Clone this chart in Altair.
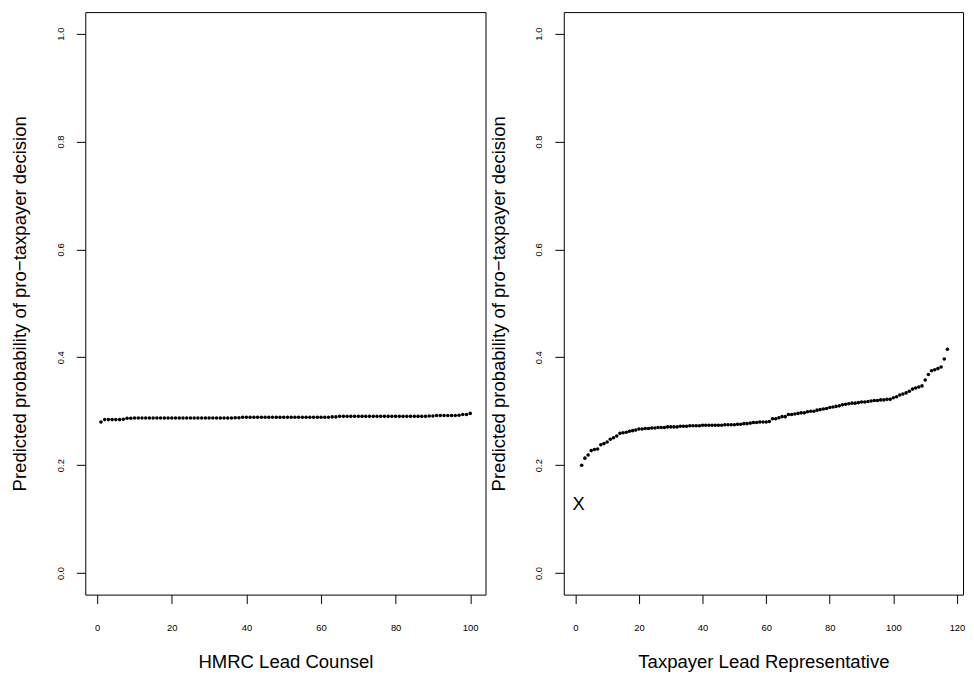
import altair as alt
import pandas as pd

# ---- data ----
left_x = list(range(1, 101))
left_y = [
    0.2800, 0.2845, 0.2845, 0.2845, 0.2845, 0.2845, 0.2850, 0.2870, 0.2870, 0.2875,
    0.2875, 0.2875, 0.2875, 0.2875, 0.2875, 0.2875, 0.2875, 0.2875, 0.2875, 0.2875,
    0.2875, 0.2875, 0.2875, 0.2875, 0.2875, 0.2875, 0.2875, 0.2875, 0.2875, 0.2875,
    0.2875, 0.2875, 0.2875, 0.2875, 0.2875, 0.2875, 0.2880, 0.2880, 0.2890, 0.2890,
    0.2890, 0.2890, 0.2890, 0.2890, 0.2890, 0.2890, 0.2890, 0.2890, 0.2890, 0.2890,
    0.2890, 0.2890, 0.2890, 0.2890, 0.2890, 0.2890, 0.2890, 0.2890, 0.2890, 0.2890,
    0.2890, 0.2890, 0.2895, 0.2895, 0.2905, 0.2905, 0.2905, 0.2905, 0.2905, 0.2905,
    0.2905, 0.2905, 0.2905, 0.2905, 0.2905, 0.2905, 0.2905, 0.2905, 0.2905, 0.2905,
    0.2905, 0.2905, 0.2905, 0.2905, 0.2905, 0.2905, 0.2905, 0.2905, 0.2910, 0.2910,
    0.2920, 0.2920, 0.2920, 0.2920, 0.2920, 0.2920, 0.2925, 0.2940, 0.2940, 0.2960,
]

right_x = list(range(2, 118))
right_y = [
    0.200, 0.213, 0.219, 0.227, 0.229, 0.230, 0.238, 0.240, 0.243, 0.248,
    0.251, 0.254, 0.259, 0.260, 0.261, 0.263, 0.264, 0.265, 0.267, 0.267,
    0.268, 0.268, 0.269, 0.269, 0.270, 0.270, 0.270, 0.271, 0.271, 0.271,
    0.271, 0.272, 0.272, 0.272, 0.273, 0.273, 0.273, 0.273, 0.274, 0.274,
    0.274, 0.274, 0.274, 0.274, 0.274, 0.275, 0.275, 0.275, 0.275, 0.276,
    0.276, 0.277, 0.277, 0.278, 0.279, 0.279, 0.280, 0.280, 0.280, 0.281,
    0.286, 0.286, 0.288, 0.290, 0.290, 0.294, 0.294, 0.295, 0.296, 0.297,
    0.297, 0.299, 0.300, 0.300, 0.302, 0.303, 0.304, 0.305, 0.307, 0.308,
    0.309, 0.310, 0.312, 0.313, 0.314, 0.315, 0.315, 0.316, 0.317, 0.317,
    0.318, 0.319, 0.320, 0.320, 0.321, 0.321, 0.322, 0.322, 0.325, 0.327,
    0.330, 0.332, 0.334, 0.337, 0.341, 0.343, 0.345, 0.347, 0.358, 0.368,
    0.375, 0.377, 0.379, 0.382, 0.397, 0.415,
]

marker_x = [1]
marker_y = [0.127]
marker_text = ["X"]

y_ticks = [0.0, 0.2, 0.4, 0.6, 0.8, 1.0]
left_ticks = [0, 20, 40, 60, 80, 100]
right_ticks = [0, 20, 40, 60, 80, 100, 120]
y_title = "Predicted probability of pro\u2212taxpayer decision"
left_xtitle = "HMRC Lead Counsel"
right_xtitle = "Taxpayer Lead Representative"

FONT = "Liberation Sans"

left_df = pd.DataFrame({"x": left_x, "y": left_y})
right_df = pd.DataFrame({"x": right_x, "y": right_y})
marker_df = pd.DataFrame({"x": marker_x, "y": marker_y, "t": marker_text})

y_scale = alt.Scale(domain=[-0.04, 1.04], nice=False, zero=False)


def y_axis():
    return alt.Axis(
        values=y_ticks, format=".1f", title=y_title,
        labelAngle=270, labelAlign="center", labelBaseline="bottom",
        labelPadding=11, tickSize=9, titlePadding=26,
    )


def x_axis(vals, title):
    return alt.Axis(
        values=vals, format="d", title=title,
        labelAngle=0, labelAlign="center", labelBaseline="top",
        labelPadding=19, tickSize=9, titlePadding=21,
    )


left = alt.Chart(left_df).mark_circle(size=13, color="black", opacity=1).encode(
    x=alt.X("x:Q", scale=alt.Scale(domain=[-3.2, 104.1], nice=False, zero=False),
            axis=x_axis(left_ticks, left_xtitle)),
    y=alt.Y("y:Q", scale=y_scale, axis=y_axis()),
).properties(width=404, height=588)

right_pts = alt.Chart(right_df).mark_circle(size=13, color="black", opacity=1).encode(
    x=alt.X("x:Q", scale=alt.Scale(domain=[-3.64, 121.9], nice=False, zero=False),
            axis=x_axis(right_ticks, right_xtitle)),
    y=alt.Y("y:Q", scale=y_scale, axis=y_axis()),
)
right_mark = alt.Chart(marker_df).mark_text(
    font=FONT, fontSize=18.5, color="black", align="center", baseline="middle"
).encode(x="x:Q", y="y:Q", text="t:N")
right = alt.layer(right_pts, right_mark).properties(width=403, height=588)

chart = alt.hconcat(left, right, spacing=2).properties(
    padding={"left": 2, "top": 0, "right": 0, "bottom": 0}
).configure_view(
    stroke="black", strokeWidth=1
).configure_axis(
    grid=False, domain=False,
    labelFont=FONT, labelFontSize=9.5, labelColor="black",
    labelFlush=False, labelOverlap=False,
    tickColor="black", tickWidth=1,
    titleFont=FONT, titleFontSize=18.7, titleFontWeight="normal", titleColor="black",
)

chart.save("out.html", embed_options={"renderer": "svg", "actions": False})
